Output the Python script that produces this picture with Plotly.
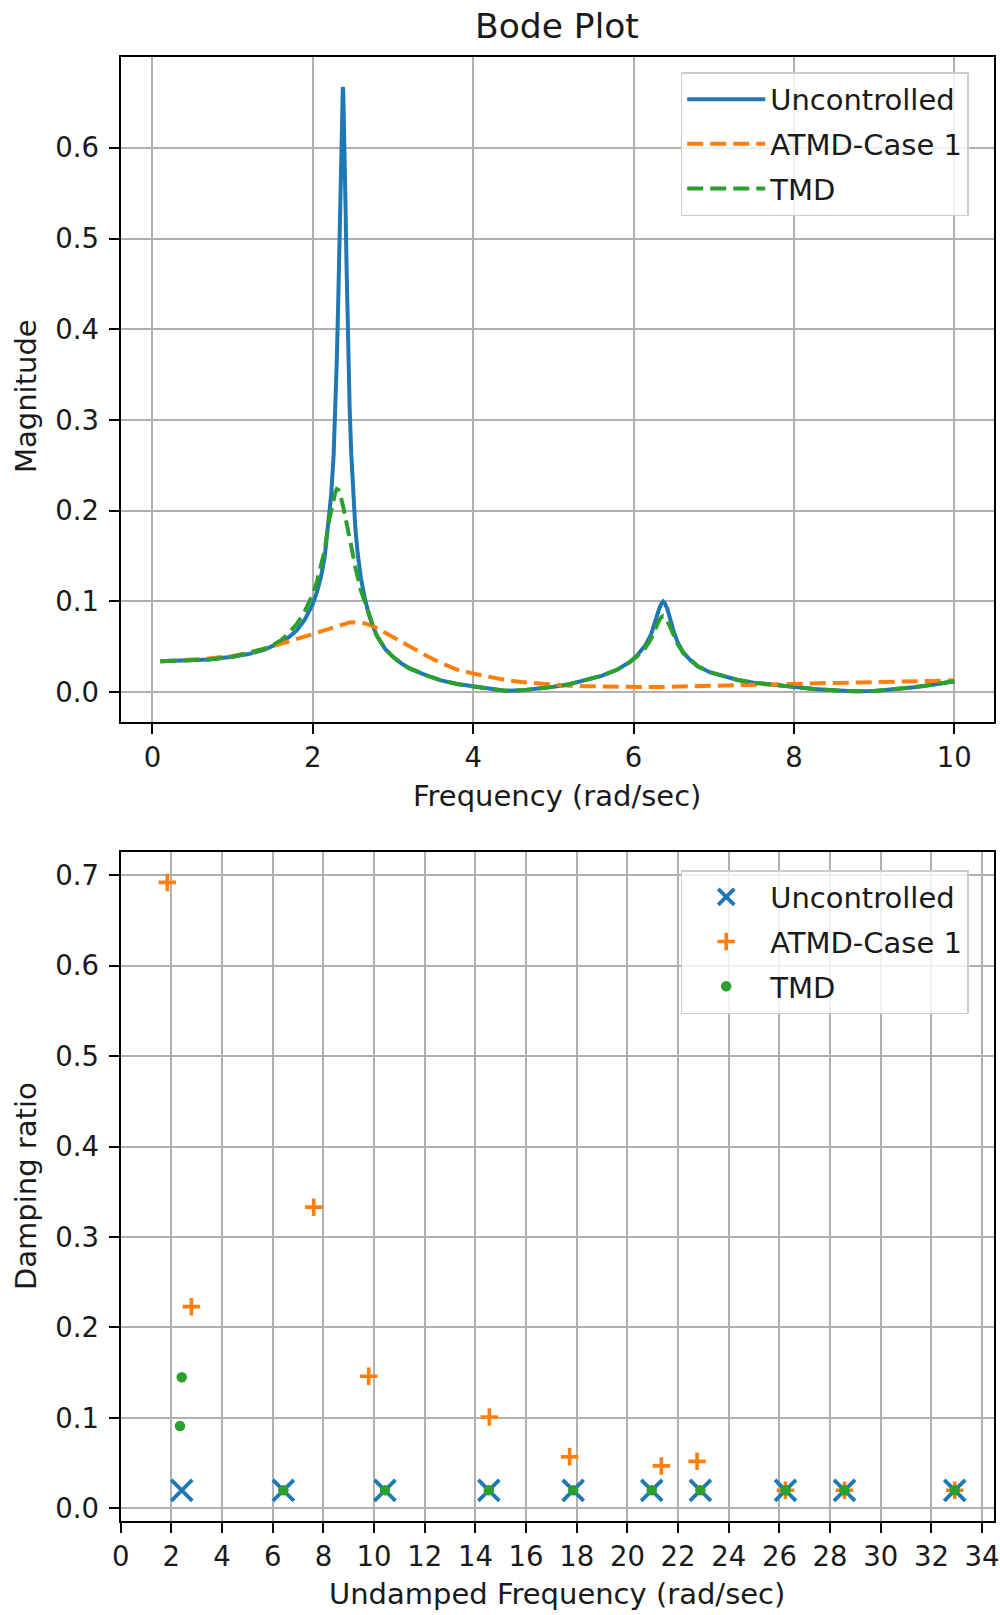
import plotly.graph_objects as go

# ---------------- Data ----------------
freq = [0.1, 0.4, 0.7, 1.0, 1.2, 1.4, 1.5, 1.6, 1.7, 1.8, 1.9, 1.95, 2.0, 2.05, 2.1, 2.15,
        2.2, 2.23, 2.26, 2.28, 2.3, 2.32, 2.34, 2.35, 2.36, 2.37, 2.375, 2.38, 2.39, 2.40,
        2.41, 2.42, 2.44, 2.46, 2.48, 2.5, 2.53, 2.56, 2.6, 2.65, 2.7, 2.75, 2.8, 2.9, 3.0,
        3.1, 3.2, 3.4, 3.6, 3.8, 4.0, 4.2, 4.4, 4.6, 4.8, 5.0, 5.2, 5.4, 5.6, 5.8, 5.95,
        6.05, 6.15, 6.22, 6.28, 6.32, 6.35, 6.37, 6.39, 6.42, 6.46, 6.5, 6.55, 6.62, 6.7,
        6.8, 6.95, 7.1, 7.3, 7.5, 7.75, 8.0, 8.25, 8.5, 8.75, 9.0, 9.25, 9.5, 9.75, 10.0]

mag_uncontrolled = [0.034, 0.0345, 0.036, 0.039, 0.042, 0.047, 0.0505, 0.055, 0.0605, 0.068,
                    0.08, 0.0875, 0.097, 0.11, 0.126, 0.15, 0.187, 0.218, 0.261, 0.303, 0.366,
                    0.44, 0.538, 0.59, 0.636, 0.663, 0.667, 0.663, 0.63, 0.582, 0.53, 0.476,
                    0.383, 0.313, 0.263, 0.222, 0.182, 0.153, 0.126, 0.103, 0.0855, 0.073,
                    0.062, 0.048, 0.039, 0.032, 0.0265, 0.019, 0.013, 0.009, 0.0062, 0.0036,
                    0.0016, 0.002, 0.0035, 0.006, 0.0088, 0.0135, 0.018, 0.025, 0.033, 0.041,
                    0.052, 0.064, 0.083, 0.092, 0.098, 0.1, 0.098, 0.092, 0.08, 0.067, 0.055,
                    0.044, 0.036, 0.0285, 0.022, 0.018, 0.0135, 0.0105, 0.0078, 0.0055, 0.0035,
                    0.002, 0.0009, 0.0012, 0.003, 0.0055, 0.0085, 0.012]

mag_atmd = [0.034, 0.035, 0.037, 0.04, 0.043, 0.048, 0.0505, 0.053, 0.0555, 0.058, 0.061,
            0.0625, 0.064, 0.0655, 0.067, 0.0685, 0.07, 0.071, 0.072, 0.0725, 0.073, 0.0737,
            0.0743, 0.0746, 0.0749, 0.0752, 0.0753, 0.0755, 0.0757, 0.076, 0.0762, 0.0764,
            0.0767, 0.0769, 0.077, 0.077, 0.077, 0.0768, 0.0765, 0.0758, 0.0745, 0.0728,
            0.0705, 0.0655, 0.06, 0.055, 0.05, 0.041, 0.032, 0.025, 0.0205, 0.0165, 0.0135,
            0.0112, 0.0095, 0.0082, 0.0072, 0.0066, 0.0061, 0.0058, 0.0057, 0.0056, 0.0056,
            0.0056, 0.0056, 0.0057, 0.0057, 0.0057, 0.0057, 0.0058, 0.0058, 0.0059, 0.006,
            0.0061, 0.0062, 0.0064, 0.0067, 0.007, 0.0075, 0.008, 0.0087, 0.0093, 0.0098,
            0.0102, 0.0106, 0.011, 0.0115, 0.012, 0.0125, 0.013]

mag_tmd = [0.034, 0.0345, 0.036, 0.039, 0.043, 0.048, 0.052, 0.057, 0.065, 0.075, 0.089,
           0.098, 0.108, 0.121, 0.137, 0.157, 0.188, 0.202, 0.213, 0.22, 0.224, 0.223, 0.219,
           0.216, 0.212, 0.208, 0.206, 0.204, 0.2, 0.196, 0.192, 0.187, 0.178, 0.169, 0.16,
           0.152, 0.138, 0.126, 0.112, 0.1, 0.0855, 0.073, 0.062, 0.048, 0.039, 0.032,
           0.0265, 0.019, 0.013, 0.009, 0.0062, 0.0036, 0.0016, 0.002, 0.0035, 0.006, 0.0088,
           0.0135, 0.018, 0.025, 0.033, 0.04, 0.049, 0.059, 0.072, 0.079, 0.083, 0.084, 0.083,
           0.079, 0.071, 0.062, 0.053, 0.043, 0.036, 0.0285, 0.022, 0.018, 0.0135, 0.0105,
           0.0078, 0.0055, 0.0035, 0.002, 0.0009, 0.0012, 0.003, 0.0055, 0.0085, 0.012]

wn_uncontrolled = [2.41, 6.42, 10.43, 14.53, 17.86, 20.96, 22.88, 26.24, 28.57, 32.92]
zeta_uncontrolled = [0.02, 0.02, 0.02, 0.02, 0.02, 0.02, 0.02, 0.02, 0.02, 0.02]

wn_atmd = [1.84, 2.79, 7.62, 9.79, 14.55, 17.72, 21.34, 22.75, 26.24, 28.57, 32.92]
zeta_atmd = [0.692, 0.223, 0.333, 0.146, 0.101, 0.057, 0.047, 0.052, 0.02, 0.02, 0.02]

wn_tmd = [2.34, 2.41, 6.42, 10.43, 14.53, 17.86, 20.96, 22.88, 26.24, 28.57, 32.92]
zeta_tmd = [0.091, 0.145, 0.02, 0.02, 0.02, 0.02, 0.02, 0.02, 0.02, 0.02, 0.02]

series_names = ["Uncontrolled", "ATMD-Case 1", "TMD"]
bode_xticks = [0, 2, 4, 6, 8, 10]
bode_yticks = [0.0, 0.1, 0.2, 0.3, 0.4, 0.5, 0.6]
damp_xticks = list(range(0, 35, 2))
damp_yticks = [0.0, 0.1, 0.2, 0.3, 0.4, 0.5, 0.6, 0.7]

assert len(freq) == len(mag_uncontrolled) == len(mag_atmd) == len(mag_tmd)

# ---------------- Styling ----------------
W, H = 1000, 1615
BLUE, ORANGE, GREEN = "#1f77b4", "#ff7f0e", "#2ca02c"
FONT = "DejaVu Sans"
FS_TICK = 27.5
FS_LABEL = 29
TXT = "#1a1a1a"

fig = go.Figure()

fig.add_trace(go.Scatter(x=freq, y=mag_uncontrolled, mode="lines", name=series_names[0],
                         line=dict(color=BLUE, width=4), xaxis="x", yaxis="y",
                         legend="legend", legendgroup="a"))
fig.add_trace(go.Scatter(x=freq, y=mag_atmd, mode="lines", name=series_names[1],
                         line=dict(color=ORANGE, width=4, dash="16px,7px"), xaxis="x", yaxis="y",
                         legend="legend", legendgroup="b"))
fig.add_trace(go.Scatter(x=freq, y=mag_tmd, mode="lines", name=series_names[2],
                         line=dict(color=GREEN, width=4, dash="16px,7px"), xaxis="x", yaxis="y",
                         legend="legend", legendgroup="c"))

fig.add_trace(go.Scatter(x=wn_uncontrolled, y=zeta_uncontrolled, mode="markers", name=series_names[0],
                         marker=dict(symbol="x-thin", size=21, color=BLUE,
                                     line=dict(color=BLUE, width=3.8)),
                         xaxis="x2", yaxis="y2", legend="legend2", legendgroup="d"))
fig.add_trace(go.Scatter(x=wn_atmd, y=zeta_atmd, mode="markers", name=series_names[1],
                         marker=dict(symbol="cross-thin", size=12.5, color=ORANGE,
                                     line=dict(color=ORANGE, width=3.6)),
                         xaxis="x2", yaxis="y2", legend="legend2", legendgroup="e"))
fig.add_trace(go.Scatter(x=wn_tmd, y=zeta_tmd, mode="markers", name=series_names[2],
                         marker=dict(symbol="circle", size=10.5, color=GREEN, line=dict(width=0)),
                         xaxis="x2", yaxis="y2", legend="legend2", legendgroup="f"))

L, R = 120.7, 994.0
top_t, top_b = 57.3, 722.3
bot_t, bot_b = 852.0, 1520.7

axis_common = dict(showline=True, linecolor="black", linewidth=2.2, mirror=True,
                   ticks="outside", ticklen=10, tickwidth=2.2, tickcolor="black",
                   showgrid=True, gridcolor="#b0b0b0", gridwidth=2, zeroline=False,
                   automargin=False,
                   tickfont=dict(family=FONT, size=FS_TICK, color=TXT))

legend_common = dict(bgcolor="rgba(255,255,255,0.8)", bordercolor="#cccccc", borderwidth=1.5,
                     font=dict(family=FONT, size=FS_LABEL, color=TXT),
                     xanchor="left", yanchor="top", tracegroupgap=4, itemwidth=78)

fig.update_layout(
    width=W, height=H, margin=dict(l=0, r=0, t=0, b=0, autoexpand=False),
    paper_bgcolor="white", plot_bgcolor="white",
    font=dict(family=FONT, size=FS_TICK, color=TXT),
    xaxis=dict(domain=[L / W, R / W], range=[-0.395, 10.495], tickvals=bode_xticks,
               anchor="y", **axis_common),
    yaxis=dict(domain=[1 - top_b / H, 1 - top_t / H], range=[-0.0332, 0.6998],
               tickvals=bode_yticks, tickformat=".1f", anchor="x", ticklabelstandoff=4,
               **axis_common),
    xaxis2=dict(domain=[L / W, R / W], range=[0, 34.47], tickvals=damp_xticks,
                anchor="y2", **axis_common),
    yaxis2=dict(domain=[1 - bot_b / H, 1 - bot_t / H], range=[-0.0136, 0.7256],
                tickvals=damp_yticks, tickformat=".1f", anchor="x2", ticklabelstandoff=4,
                **axis_common),
    legend=dict(x=680.7 / W, y=1 - 72.3 / H, **legend_common),
    legend2=dict(x=680.7 / W, y=1 - 870 / H, **legend_common),
    showlegend=True,
)

annots = [
    dict(text="Bode Plot", x=(L + R) / 2 / W, y=1 - 26 / H, font=dict(size=34.5)),
    dict(text="Frequency (rad/sec)", x=(L + R) / 2 / W, y=1 - 796 / H),
    dict(text="Undamped Frequency (rad/sec)", x=(L + R) / 2 / W, y=1 - 1594 / H),
    dict(text="Magnitude", x=26 / W, y=1 - 396 / H, textangle=-90),
    dict(text="Damping ratio", x=26 / W, y=1 - 1186 / H, textangle=-90),
]
for a in annots:
    fnt = dict(family=FONT, size=FS_LABEL, color=TXT)
    fnt.update(a.pop("font", {}))
    fig.add_annotation(xref="paper", yref="paper", xanchor="center", yanchor="middle",
                       showarrow=False, font=fnt, **a)

fig.write_html(
    "out.html",
    config={"displayModeBar": False},
    post_script="document.body.style.margin='0px';document.body.style.overflow='hidden';",
)
